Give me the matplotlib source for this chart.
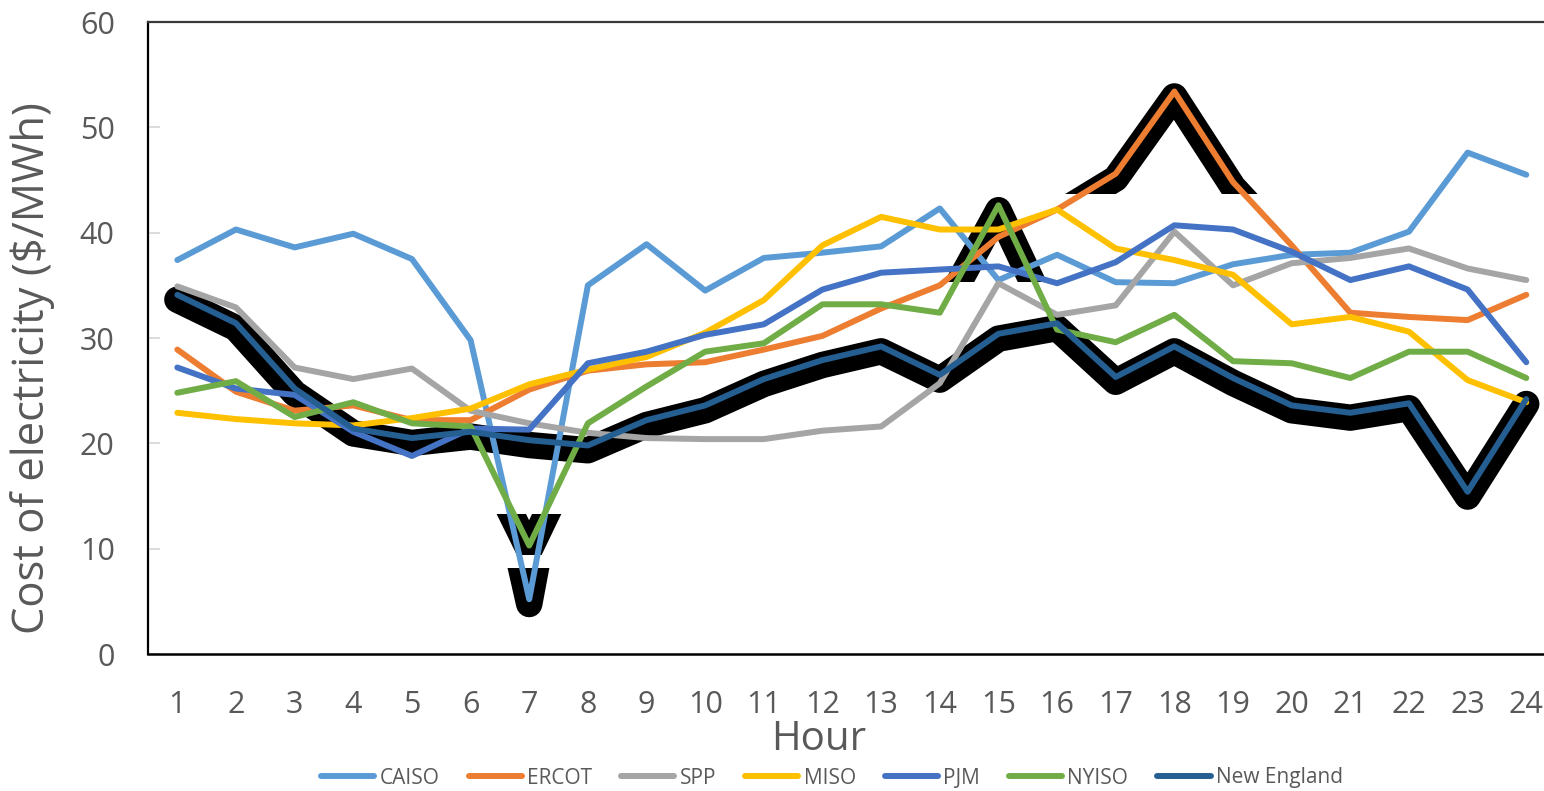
import matplotlib.pyplot as plt
import matplotlib.transforms as mtransforms
from matplotlib.patches import Rectangle
from matplotlib.lines import Line2D

# hourly cost of electricity by market ($/MWh)
hours = list(range(1, 25))
caiso = [37.4, 40.3, 38.6, 39.9, 37.5, 29.8, 5.2, 35.0, 38.9, 34.5, 37.6, 38.1,
         38.7, 42.3, 35.5, 37.9, 35.3, 35.2, 37.0, 37.9, 38.1, 40.1, 47.6, 45.5]
ercot = [28.9, 24.9, 23.1, 23.6, 22.2, 22.2, 25.1, 26.9, 27.5, 27.7, 28.9, 30.2,
         32.8, 35.0, 39.6, 42.2, 45.6, 53.4, 44.8, 38.8, 32.4, 32.0, 31.7, 34.1]
spp = [34.9, 32.9, 27.2, 26.1, 27.1, 23.1, 21.9, 21.0, 20.5, 20.4, 20.4, 21.2,
       21.6, 25.7, 35.2, 32.2, 33.1, 40.1, 35.0, 37.1, 37.6, 38.5, 36.6, 35.5]
miso = [22.9, 22.3, 21.9, 21.7, 22.4, 23.3, 25.6, 27.0, 28.2, 30.5, 33.6, 38.8,
        41.5, 40.3, 40.3, 42.2, 38.5, 37.4, 36.0, 31.3, 32.0, 30.6, 26.0, 23.9]
pjm = [27.2, 25.2, 24.6, 21.1, 18.8, 21.4, 21.3, 27.6, 28.7, 30.3, 31.3, 34.6,
       36.2, 36.5, 36.8, 35.2, 37.2, 40.7, 40.3, 38.2, 35.5, 36.8, 34.6, 27.7]
nyiso = [24.8, 25.9, 22.5, 23.9, 21.9, 21.6, 10.3, 21.9, 25.4, 28.7, 29.5, 33.2,
         33.2, 32.4, 42.6, 30.8, 29.6, 32.2, 27.8, 27.6, 26.2, 28.7, 28.7, 26.2]
new_england = [34.1, 31.4, 25.2, 21.4, 20.5, 21.1, 20.3, 19.8, 22.2, 23.6, 26.1, 27.9,
               29.2, 26.5, 30.4, 31.4, 26.3, 29.2, 26.2, 23.6, 22.9, 23.8, 15.4, 24.2]

names = ['CAISO', 'ERCOT', 'SPP', 'MISO', 'PJM', 'NYISO', 'New England']
series = [caiso, ercot, spp, miso, pjm, nyiso, new_england]
colors = ['#5B9BD5', '#ED7D31', '#A5A5A5', '#FFC000', '#4472C4', '#70AD47', '#255E91']

text_color = '#595959'
font = ['Open Sans', 'DejaVu Sans']

fig = plt.figure(figsize=(15.44, 7.91), dpi=100)
ax = fig.add_axes([148 / 1544, 137 / 791, 1407.6 / 1544, 632 / 791])

lw = 4.3
shadow_lw = 19
shadow_tr = mtransforms.offset_copy(ax.transData, fig=fig, x=0, y=-3.5, units='points')


def shadow(values, box=None):
    ln, = ax.plot(hours, values, color='black', lw=shadow_lw, transform=shadow_tr,
                  solid_capstyle='round', zorder=1)
    if box is not None:
        (x0, y0), (x1, y1) = box
        rect = Rectangle((x0, y0), x1 - x0, y1 - y0, transform=ax.transData)
        ln.set_clip_path(rect)


# black highlight behind the lowest market and the price spikes
shadow(new_england)
shadow(caiso, ((6, -5), (8, 8.2)))
shadow(nyiso, ((6, 9.4), (8, 13.3)))
shadow(nyiso, ((14, 35.3), (16, 60)))
shadow(ercot, ((16, 43.7), (20, 60)))

for name, vals, c in zip(names, series, colors):
    ax.plot(hours, vals, color=c, lw=lw, solid_capstyle='round', label=name, zorder=2)

ax.set_xlim(0.5, 24.5)
ax.set_ylim(0, 60)
ax.set_xticks(hours)
ax.set_yticks(range(0, 61, 10))

ax.tick_params(axis='y', direction='in', length=8.5, width=1.3, color='#D9D9D9',
               labelsize=22, labelcolor=text_color, pad=24)
ax.tick_params(axis='x', length=0, labelsize=22, labelcolor=text_color, pad=26)
for lab in ax.get_xticklabels() + ax.get_yticklabels():
    lab.set_family(font)

ax.spines['left'].set_linewidth(1.6)
ax.spines['bottom'].set_linewidth(1.8)
ax.spines['top'].set_linewidth(1.6)
ax.spines['top'].set_color('#3A3A3A')
ax.spines['right'].set_visible(False)

fig.text(819 / 1544, 1 - 740 / 791, 'Hour', ha='center', va='center',
         fontsize=29, color=text_color, family=font)
fig.text(33 / 1544, 1 - 368 / 791, 'Cost of electricity ($/MWh)', ha='center',
         va='center', rotation=90, fontsize=31.4, color=text_color, family=font)

handles = [Line2D([0], [0], color=c, lw=lw, solid_capstyle='round') for c in colors]
leg = fig.legend(handles, names, loc='center', bbox_to_anchor=(832 / 1544, 1 - 778 / 791),
                 ncol=7, frameon=False, fontsize=15, handlelength=2.55, handletextpad=0.25,
                 columnspacing=1.4, borderaxespad=0, borderpad=0)
for t in leg.get_texts():
    t.set_color(text_color)
    t.set_family(font)

fig.savefig('out.png', dpi=100)
